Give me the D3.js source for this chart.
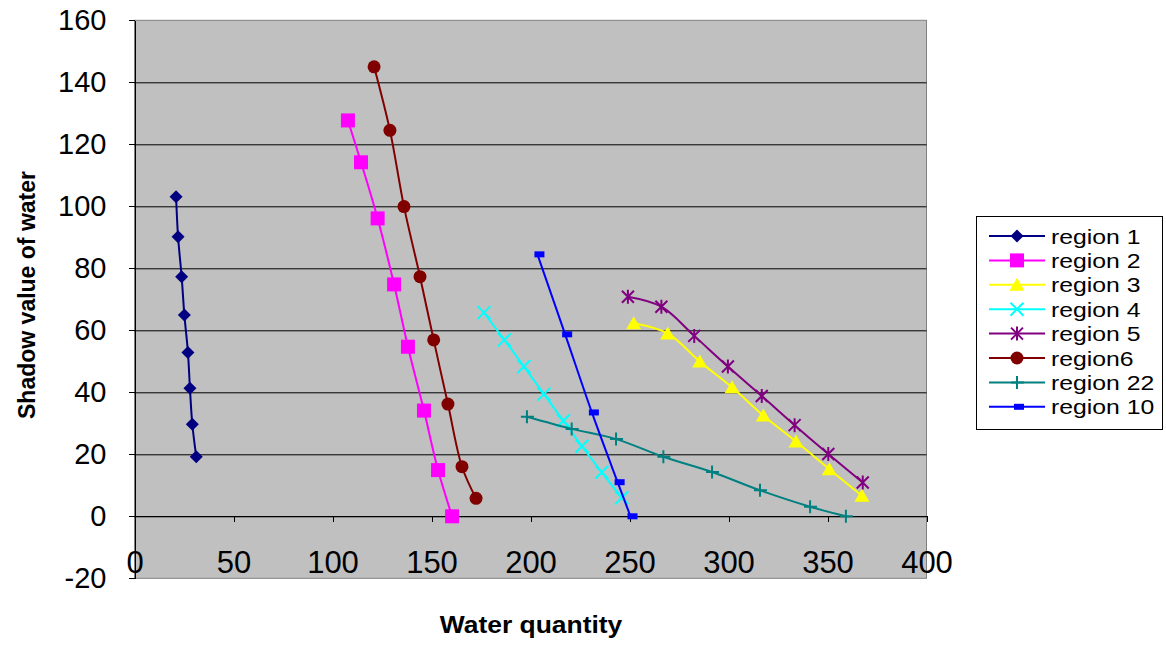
<!DOCTYPE html>
<meta charset="UTF-8">
<style>
    body { margin: 0; background: #fff; }
    text { font-family: "Liberation Sans", Arial, sans-serif; fill: #000; }
    .grid line { stroke: #000; stroke-width: 1px; }
    .axis path, .axis line { stroke: #000; shape-rendering: crispEdges; }
</style>
<body>
<div id="chart"></div>
<script src="https://d3js.org/d3.v7.min.js"></script>
<script>
    // values
    var region1X = [21.0, 22.0, 23.8, 25.2, 27.0, 28.0, 29.2, 31.2];
    var region1Y = [103.1, 90.2, 77.3, 64.9, 52.8, 41.3, 29.7, 19.2];
    var region2X = [107.8, 114.4, 122.8, 131.1, 138.1, 146.2, 153.3, 160.4];
    var region2Y = [127.7, 114.2, 96.1, 74.8, 54.7, 34.1, 14.9, 0];
    var region3X = [252.1, 269.3, 285.5, 301.8, 317.6, 334.1, 350.9, 367.4];
    var region3Y = [62.3, 59.0, 49.9, 41.6, 32.5, 24.1, 15.2, 6.6];
    var region4X = [176.5, 186.8, 196.7, 206.8, 216.6, 226.0, 236.0, 246.1];
    var region4Y = [65.7, 56.9, 48.3, 39.4, 30.8, 22.6, 14.2, 6.0];
    var region5X = [249.2, 266.1, 282.7, 299.7, 316.8, 333.4, 350.4, 367.8];
    var region5Y = [70.8, 67.6, 58.2, 48.3, 38.8, 29.4, 20.1, 10.9];
    var region6X = [121.0, 129.0, 136.1, 144.2, 151.1, 158.3, 165.4, 172.5];
    var region6Y = [145.0, 124.5, 99.9, 77.3, 56.9, 36.2, 16.0, 5.8];
    var region22X = [198.2, 220.8, 243.2, 267.1, 291.7, 315.9, 341.2, 359.3];
    var region22Y = [32.1, 28.2, 24.9, 19.2, 14.3, 8.4, 3.1, 0];
    var region10X = [203.5, 217.5, 231, 244, 250.5];
    var region10Y = [84.5, 58.7, 33.5, 11.0, 0];

    var seriesNames = ["region 1", "region 2", "region 3", "region 4", "region 5", "region6", "region 22", "region 10"];
    var xTicks = [0, 50, 100, 150, 200, 250, 300, 350, 400];
    var yTicks = [-20, 0, 20, 40, 60, 80, 100, 120, 140, 160];

    var series = [
        {name: seriesNames[0], xs: region1X, ys: region1Y, color: "#000080", marker: "diamond"},
        {name: seriesNames[1], xs: region2X, ys: region2Y, color: "#FF00FF", marker: "square"},
        {name: seriesNames[2], xs: region3X, ys: region3Y, color: "#FFFF00", marker: "triangle"},
        {name: seriesNames[3], xs: region4X, ys: region4Y, color: "#00FFFF", marker: "x"},
        {name: seriesNames[4], xs: region5X, ys: region5Y, color: "#800080", marker: "star"},
        {name: seriesNames[5], xs: region6X, ys: region6Y, color: "#800000", marker: "circle"},
        {name: seriesNames[6], xs: region22X, ys: region22Y, color: "#008080", marker: "plus"},
        {name: seriesNames[7], xs: region10X, ys: region10Y, color: "#0000FF", marker: "dash"}
    ];

    var W = 1166, H = 647;
    var margin = {top: 20.3, left: 134.5},
            width = 792,
            height = 558;

    var svg = d3.select("#chart").append("svg")
            .attr("width", W)
            .attr("height", H);

    var g = svg.append("g")
            .attr("transform", "translate(" + margin.left + "," + margin.top + ")");

    var x = d3.scaleLinear().domain([0, 400]).range([0, width]);
    var y = d3.scaleLinear().domain([-20, 160]).range([height, 0]);

    // plot background
    g.append("rect")
            .attr("width", width)
            .attr("height", height)
            .attr("fill", "#C0C0C0")
            .attr("stroke", "#808080")
            .attr("stroke-width", 1);

    // horizontal gridlines
    g.append("g").attr("class", "grid")
            .selectAll("line")
            .data(yTicks.filter(function (d) { return d > -20 && d < 160; }))
            .enter().append("line")
            .attr("x1", 0).attr("x2", width)
            .attr("y1", function (d) { return Math.round(y(d)) + 0.5; })
            .attr("y2", function (d) { return Math.round(y(d)) + 0.5; });

    // y axis (plain hyphen for negatives, like the original)
    var yAxis = g.append("g").attr("class", "axis")
            .call(d3.axisLeft(y).tickValues(yTicks).tickFormat(String)
                    .tickSize(6).tickSizeOuter(0).tickPadding(22));
    yAxis.selectAll("text").style("font-size", "29px");

    // x axis crossing at zero
    var xAxis = g.append("g").attr("class", "axis")
            .attr("transform", "translate(0," + y(0) + ")")
            .call(d3.axisBottom(x).tickValues(xTicks).tickFormat(String).tickSize(6).tickSizeOuter(0));
    xAxis.selectAll("text")
            .attr("dy", null)
            .attr("y", 57)
            .style("font-size", "31px");

    // axis titles
    svg.append("text")
            .attr("transform", "translate(531,633) scale(1.15,1)")
            .attr("text-anchor", "middle")
            .style("font-size", "23px")
            .style("font-weight", "bold")
            .text("Water quantity");

    svg.append("text")
            .attr("transform", "translate(35,295) rotate(-90)")
            .attr("text-anchor", "middle")
            .style("font-size", "23px")
            .style("font-weight", "bold")
            .text("Shadow value of water");

    // markers
    function drawMarker(sel, type, color) {
        if (type === "diamond") {
            sel.append("path").attr("d", "M0,-6.5L6.5,0L0,6.5L-6.5,0Z").attr("fill", color);
        } else if (type === "square") {
            sel.append("rect").attr("x", -7).attr("y", -7).attr("width", 14).attr("height", 14).attr("fill", color);
        } else if (type === "triangle") {
            sel.append("path").attr("d", "M0,-7L7.5,6L-7.5,6Z").attr("fill", color);
        } else if (type === "x") {
            sel.append("path").attr("d", "M-6.5,-6.5L6.5,6.5M-6.5,6.5L6.5,-6.5")
                    .attr("stroke", color).attr("stroke-width", 2).attr("fill", "none");
        } else if (type === "star") {
            sel.append("path").attr("d", "M-6,-6L6,6M-6,6L6,-6M0,-7L0,7")
                    .attr("stroke", color).attr("stroke-width", 2).attr("fill", "none");
        } else if (type === "circle") {
            sel.append("circle").attr("r", 6.5).attr("fill", color);
        } else if (type === "plus") {
            sel.append("path").attr("d", "M-6,0L7,0M0,-6.5L0,6.5")
                    .attr("stroke", color).attr("stroke-width", 2).attr("fill", "none");
        } else if (type === "dash") {
            sel.append("rect").attr("x", -3).attr("y", -3).attr("width", 10).attr("height", 6).attr("fill", color);
        }
    }

    var line = d3.line()
            .x(function (d) { return x(d[0]); })
            .y(function (d) { return y(d[1]); })
            .curve(d3.curveCatmullRom.alpha(0.5));

    series.forEach(function (s) {
        var pts = s.xs.map(function (v, i) { return [v, s.ys[i]]; });
        var sg = g.append("g");
        sg.append("path")
                .attr("d", line(pts))
                .attr("fill", "none")
                .attr("stroke", s.color)
                .attr("stroke-width", 2);
        sg.selectAll("g.pt")
                .data(pts)
                .enter().append("g")
                .attr("class", "pt")
                .attr("transform", function (d) { return "translate(" + x(d[0]) + "," + y(d[1]) + ")"; })
                .each(function () { drawMarker(d3.select(this), s.marker, s.color); });
    });

    // legend
    var legend = svg.append("g").attr("transform", "translate(976,216)");
    legend.append("rect")
            .attr("x", 0.5).attr("y", 0.5)
            .attr("width", 186).attr("height", 213)
            .attr("fill", "#fff")
            .attr("stroke", "#000");

    var item = legend.selectAll("g.item")
            .data(series)
            .enter().append("g")
            .attr("class", "item")
            .attr("transform", function (d, i) { return "translate(0," + (20 + i * 24.4) + ")"; });
    item.append("line")
            .attr("x1", 13).attr("x2", 69)
            .attr("stroke", function (d) { return d.color; })
            .attr("stroke-width", 2);
    item.append("g")
            .attr("transform", "translate(41,0)")
            .each(function (d) { drawMarker(d3.select(this), d.marker, d.color); });
    item.append("text")
            .attr("transform", "translate(75,7.5) scale(1.18,1)")
            .style("font-size", "21px")
            .text(function (d) { return d.name; });
</script>
</body>
